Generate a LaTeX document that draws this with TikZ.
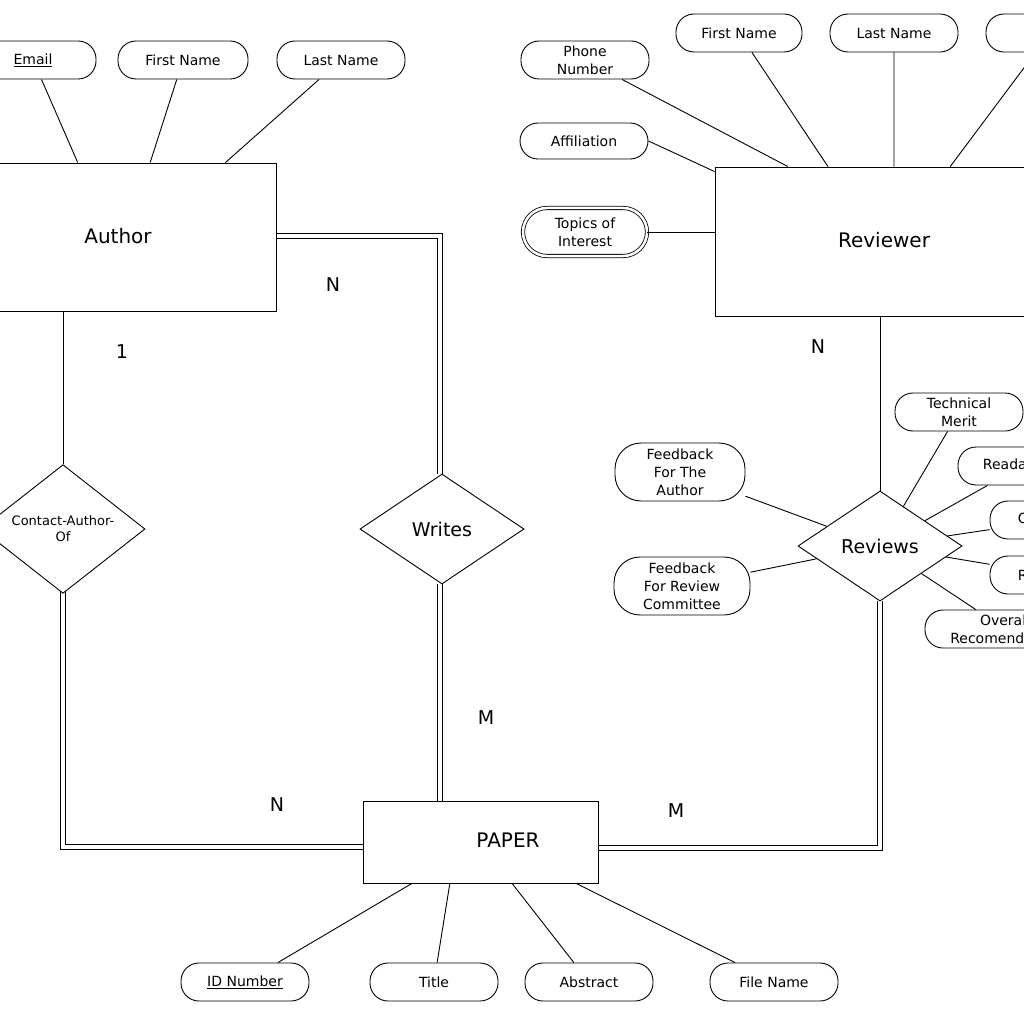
\documentclass[tikz,border=0pt]{standalone}
\usepackage{fontspec}
\setmainfont{DejaVu Sans}
\usetikzlibrary{shapes.geometric,calc}
\begin{document}
\begin{tikzpicture}[x=1pt,y=-1pt,line width=0.9pt,
  ent/.style={draw,rectangle,inner sep=0pt,font=\fontsize{20}{22}\selectfont},
  att/.style={draw,rectangle,rounded corners=18pt,minimum width=128pt,minimum height=38pt,inner sep=1pt,align=center,font=\fontsize{14}{18}\selectfont},
  attb/.style={att,minimum height=58pt,rounded corners=26pt},
  rel/.style={draw,diamond,minimum width=164pt,minimum height=110pt,inner sep=0pt,align=center},
  dbl/.style={draw=black,double=white,double distance=4pt,line width=1pt},
  lab/.style={font=\fontsize{19}{20}\selectfont}]
\clip (0,0) rectangle (1024,1024);
\fill[white] (0,0) rectangle (1024,1024);
% connectors (double) first
\coordinate (c1) at (63,584);
\draw[dbl] (63,584) -- (63,847) -- (363,847);
\draw[dbl] (276,236) -- (440,236) -- (440,474);
\draw[dbl] (440,584) -- (440,801);
\draw[dbl] (880,601) -- (880,848) -- (598,848);
% Author
\node[ent,minimum width=281pt,minimum height=148pt,fill=white] (author) at (135.5,237) {};
\node[font=\fontsize{20}{22}\selectfont] at (118,236) {Author};
\node[att,minimum width=126pt] (email) at (33,60) {\underline{Email}};
\node[att,minimum width=130pt] (afn) at (183,60) {First Name};
\node[att] (aln) at (341,60) {Last Name};
\draw (email) -- ($(author.north west)!0.295!(author.north east)$);
\draw (afn) -- ($(author.north west)!0.552!(author.north east)$);
\draw (aln) -- ($(author.north west)!0.819!(author.north east)$);
% Reviewer
\node[ent,minimum width=315pt,minimum height=149pt] (rev) at (872.5,241.5) {};
\node[font=\fontsize{20}{22}\selectfont] at (884,240) {Reviewer};
\node[att] (phone) at (585,60) {Phone\\Number};
\node[att,minimum width=126pt] (rfn) at (739,33) {First Name};
\node[att] (rln) at (894,33) {Last Name};
\node[att] (rem) at (1050,33) {};
\node[att,minimum height=36pt] (aff) at (584,141) {Affiliation};
\node[att,rounded corners=24pt,double,double distance=2.5pt,line width=0.8pt,minimum width=124pt,minimum height=48pt] (topics) at (585,232) {Topics of\\Interest};
\draw (phone) -- ($(rev.north west)!0.232!(rev.north east)$);
\draw (rfn) -- ($(rev.north west)!0.359!(rev.north east)$);
\draw (rln) -- ($(rev.north west)!0.568!(rev.north east)$);
\draw (rem) -- ($(rev.north west)!0.746!(rev.north east)$);
\draw (aff.east) -- ($(rev.north west)+(0,-5pt)$);
\draw (topics) -- (topics -| rev.west);
% relationships
\node[rel,fill=white,font=\fontsize{13}{16}\selectfont] (cao) at (63,529) {Contact-Author-\\Of};
\node[rel,fill=white,font=\fontsize{19}{20}\selectfont] (writes) at (442,529) {Writes};
\node[rel,fill=white,font=\fontsize{19}{20}\selectfont] (reviews) at (880,546) {Reviews};
% Paper
\node[ent,fill=white,minimum width=235pt,minimum height=82pt] (paper) at (480.5,842) {};
\node[font=\fontsize{20}{22}\selectfont] at (508,840) {PAPER};
\node[att] (idn) at (245,982) {\underline{ID Number}};
\node[att] (title) at (434,982) {Title};
\node[att] (abs) at (589,982) {Abstract};
\node[att] (fname) at (774,982) {File Name};
\draw (idn) -- ($(paper.south west)!0.209!(paper.south east)$);
\draw (title) -- ($(paper.south west)!0.37!(paper.south east)$);
\draw (abs) -- ($(paper.south west)!0.634!(paper.south east)$);
\draw (fname) -- ($(paper.south west)!0.906!(paper.south east)$);
% review attributes
\node[att] (tm) at (959,412) {Technical\\Merit};
\node[att] (read) at (1022,466) {Readability};
\node[att] (orig) at (1054,520) {Originality};
\node[att] (relv) at (1054,575) {Relevance};
\node[att,minimum width=160pt] (over) at (1005,629) {Overall\\Recomendation};
\node[attb,minimum width=130pt] (fba) at (680,472) {Feedback\\For The\\Author};
\node[attb,minimum width=136pt] (fbr) at (682,586) {Feedback\\For Review\\Committee};
\draw (tm) -- (reviews);
\draw (read) -- (reviews);
\draw (orig) -- (reviews);
\draw (relv) -- (reviews);
\draw (over) -- (reviews);
\draw (fba) -- (reviews);
\draw (fbr) -- (reviews);
\draw (author.south -| cao) -- (cao.north);
\draw (rev.south -| reviews) -- (reviews.north);
% labels
\node[lab] at (122,352) {1};
\node[lab] at (333,285) {N};
\node[lab] at (277,805) {N};
\node[lab] at (486,718) {M};
\node[lab] at (818,347) {N};
\node[lab] at (676,811) {M};
\end{tikzpicture}
\end{document}
